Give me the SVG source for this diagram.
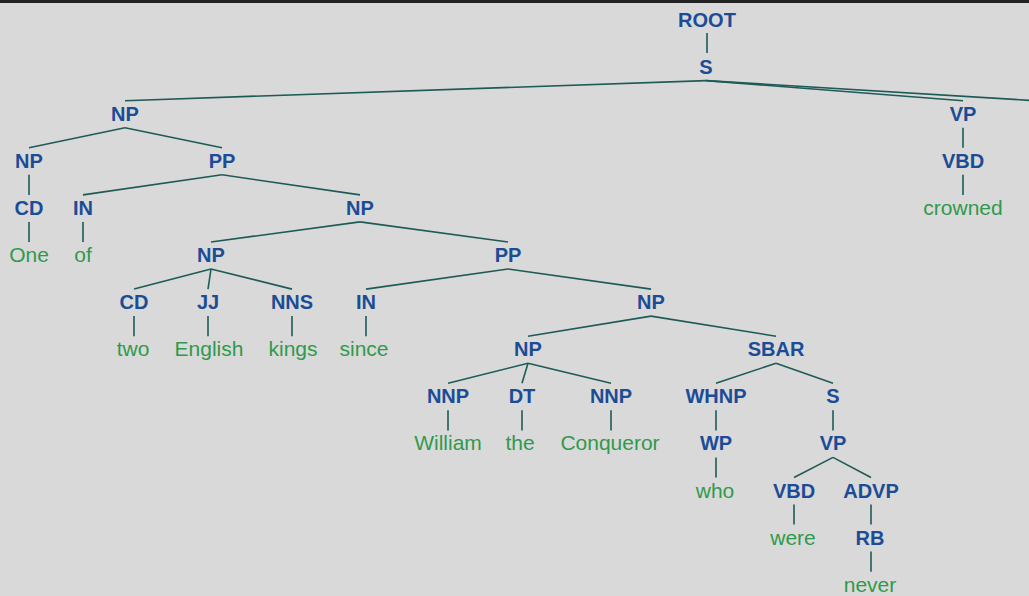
<svg xmlns="http://www.w3.org/2000/svg" width="1029" height="596" viewBox="0 0 1029 596">
<style>
.l{font-family:"Liberation Sans",Arial,sans-serif;font-size:20px;font-weight:bold;fill:#1b4c96;text-anchor:middle}
.w{font-family:"Liberation Sans",Arial,sans-serif;font-size:21px;fill:#2f9a4c;text-anchor:middle}
.e line{stroke:#1d5b57;stroke-width:1.6;fill:none}
</style>
<rect x="0" y="0" width="1029" height="596" fill="#d9d9d9"/>
<rect x="0" y="0" width="1029" height="3" fill="#222"/>
<g class="e" id="connectors">
<line x1="707" y1="33" x2="707" y2="53"/>
<line x1="706" y1="80.6" x2="125" y2="100.7"/>
<line x1="706" y1="80.6" x2="963" y2="100.7"/>
<line x1="706" y1="80.6" x2="1035" y2="100.7"/>
<line x1="125" y1="127.7" x2="29" y2="147.8"/>
<line x1="125" y1="127.7" x2="222" y2="147.8"/>
<line x1="963" y1="127.7" x2="963" y2="147.8"/>
<line x1="29" y1="174.8" x2="29" y2="194.9"/>
<line x1="222" y1="174.8" x2="83" y2="194.9"/>
<line x1="222" y1="174.8" x2="360" y2="194.9"/>
<line x1="963" y1="174.8" x2="963" y2="194.9"/>
<line x1="29" y1="221.9" x2="29" y2="242"/>
<line x1="83" y1="221.9" x2="83" y2="242"/>
<line x1="360" y1="221.9" x2="211" y2="242"/>
<line x1="360" y1="221.9" x2="508" y2="242"/>
<line x1="211" y1="269" x2="134" y2="289.1"/>
<line x1="211" y1="269" x2="208" y2="289.1"/>
<line x1="211" y1="269" x2="292" y2="289.1"/>
<line x1="508" y1="269" x2="366" y2="289.1"/>
<line x1="508" y1="269" x2="651" y2="289.1"/>
<line x1="134" y1="316.1" x2="134" y2="336.2"/>
<line x1="208" y1="316.1" x2="208" y2="336.2"/>
<line x1="292" y1="316.1" x2="292" y2="336.2"/>
<line x1="366" y1="316.1" x2="366" y2="336.2"/>
<line x1="651" y1="316.1" x2="528" y2="336.2"/>
<line x1="651" y1="316.1" x2="776" y2="336.2"/>
<line x1="528" y1="363.2" x2="448" y2="383.3"/>
<line x1="528" y1="363.2" x2="522" y2="383.3"/>
<line x1="528" y1="363.2" x2="611" y2="383.3"/>
<line x1="776" y1="363.2" x2="716" y2="383.3"/>
<line x1="776" y1="363.2" x2="833" y2="383.3"/>
<line x1="448" y1="410.3" x2="448" y2="430.4"/>
<line x1="522" y1="410.3" x2="522" y2="430.4"/>
<line x1="611" y1="410.3" x2="611" y2="430.4"/>
<line x1="716" y1="410.3" x2="716" y2="430.4"/>
<line x1="833" y1="410.3" x2="833" y2="430.4"/>
<line x1="716" y1="457.4" x2="716" y2="477.5"/>
<line x1="833" y1="457.4" x2="794" y2="477.5"/>
<line x1="833" y1="457.4" x2="871" y2="477.5"/>
<line x1="794" y1="504.5" x2="794" y2="524.6"/>
<line x1="871" y1="504.5" x2="871" y2="524.6"/>
<line x1="871" y1="551.6" x2="871" y2="571.7"/>
</g>
<g id="n_root"><text class="l" x="707" y="26.5">ROOT</text></g>
<g id="n_s1"><text class="l" x="706" y="73.6">S</text></g>
<g id="n_np1"><text class="l" x="125" y="120.7">NP</text></g>
<g id="n_vp1"><text class="l" x="963" y="120.7">VP</text></g>
<g id="n_np2"><text class="l" x="29" y="167.8">NP</text></g>
<g id="n_pp1"><text class="l" x="222" y="167.8">PP</text></g>
<g id="n_vbd1"><text class="l" x="963" y="167.8">VBD</text></g>
<g id="n_cd1"><text class="l" x="29" y="214.9">CD</text></g>
<g id="n_in1"><text class="l" x="83" y="214.9">IN</text></g>
<g id="n_np3"><text class="l" x="360" y="214.9">NP</text></g>
<g id="w_crowned"><text class="w" x="963" y="214.9">crowned</text></g>
<g id="w_one"><text class="w" x="29" y="262">One</text></g>
<g id="w_of"><text class="w" x="83" y="262">of</text></g>
<g id="n_np4"><text class="l" x="211" y="262">NP</text></g>
<g id="n_pp2"><text class="l" x="508" y="262">PP</text></g>
<g id="n_cd2"><text class="l" x="134" y="309.1">CD</text></g>
<g id="n_jj"><text class="l" x="208" y="309.1">JJ</text></g>
<g id="n_nns"><text class="l" x="292" y="309.1">NNS</text></g>
<g id="n_in2"><text class="l" x="366" y="309.1">IN</text></g>
<g id="n_np5"><text class="l" x="651" y="309.1">NP</text></g>
<g id="w_two"><text class="w" x="133" y="356.2">two</text></g>
<g id="w_english"><text class="w" x="209" y="356.2">English</text></g>
<g id="w_kings"><text class="w" x="293" y="356.2">kings</text></g>
<g id="w_since"><text class="w" x="364" y="356.2">since</text></g>
<g id="n_np6"><text class="l" x="528" y="356.2">NP</text></g>
<g id="n_sbar"><text class="l" x="776" y="356.2">SBAR</text></g>
<g id="n_nnp1"><text class="l" x="448" y="403.3">NNP</text></g>
<g id="n_dt"><text class="l" x="522" y="403.3">DT</text></g>
<g id="n_nnp2"><text class="l" x="611" y="403.3">NNP</text></g>
<g id="n_whnp"><text class="l" x="716" y="403.3">WHNP</text></g>
<g id="n_s2"><text class="l" x="833" y="403.3">S</text></g>
<g id="w_william"><text class="w" x="448" y="450.4">William</text></g>
<g id="w_the"><text class="w" x="520" y="450.4">the</text></g>
<g id="w_conqueror"><text class="w" x="610" y="450.4">Conqueror</text></g>
<g id="n_wp"><text class="l" x="716" y="450.4">WP</text></g>
<g id="n_vp2"><text class="l" x="833" y="450.4">VP</text></g>
<g id="w_who"><text class="w" x="715" y="497.5">who</text></g>
<g id="n_vbd2"><text class="l" x="794" y="497.5">VBD</text></g>
<g id="n_advp"><text class="l" x="871" y="497.5">ADVP</text></g>
<g id="w_were"><text class="w" x="793" y="544.6">were</text></g>
<g id="n_rb"><text class="l" x="870" y="544.6">RB</text></g>
<g id="w_never"><text class="w" x="870" y="591.7">never</text></g>
</svg>
